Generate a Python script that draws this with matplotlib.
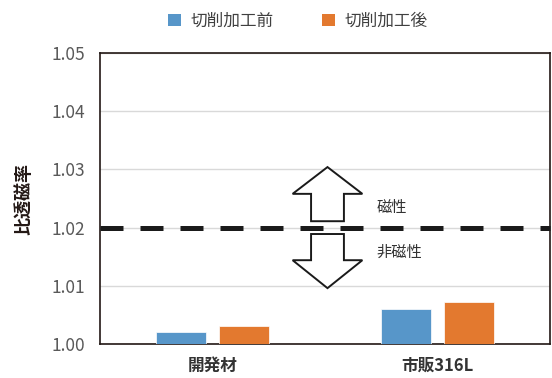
import numpy as np
import matplotlib.pyplot as plt
from matplotlib.patches import Polygon, Patch

plt.rcParams['font.family'] = ['Noto Sans CJK JP', 'DejaVu Sans']

categories = ['開発材', '市販316L']
series_names = ['切削加工前', '切削加工後']
before = [1.0020, 1.0060]
after = [1.0031, 1.0072]
threshold = 1.02
yticks = [1.00, 1.01, 1.02, 1.03, 1.04, 1.05]

blue = '#5796C9'
orange = '#E3792F'
frame = '#231815'

fig = plt.figure(figsize=(5.52, 3.78), dpi=100)
ax = fig.add_axes([0.1812, 0.0899, 0.8152, 0.7699])

x = np.arange(len(categories))
w = 0.222
ax.bar(x - 0.142, before, w, bottom=0, color=blue, edgecolor='white', linewidth=0.5, zorder=3)
ax.bar(x + 0.142, after, w, bottom=0, color=orange, edgecolor='white', linewidth=0.5, zorder=3)

ax.set_xlim(-0.5, 1.5)
ax.set_ylim(1.00, 1.05)
ax.set_yticks(yticks)
ax.set_yticklabels(['%.2f' % v for v in yticks], color='#595959', fontsize=12.5)
ax.set_xticks(x)
ax.set_xticklabels(categories, fontsize=12, fontweight='bold', color='#333333')
ax.tick_params(length=0)
ax.tick_params(axis='x', pad=9)
ax.tick_params(axis='y', pad=11)
ax.grid(axis='y', color='#D9D9D9', linewidth=1, zorder=0)
for s in ax.spines.values():
    s.set_color(frame)
    s.set_linewidth(1.2)

ax.set_ylabel('比透磁率', fontsize=13, fontweight='bold', color='#231815', labelpad=13)

# threshold line
ax.axhline(threshold, color='#1a1a1a', linewidth=3.6, dashes=(4.6, 3.4), zorder=4, clip_on=False)

# arrows
cx = 0.511
sw = 0.073
hw = 0.155
up = [(cx - sw, 1.0211), (cx - sw, 1.0258), (cx - hw, 1.0258), (cx, 1.0304),
      (cx + hw, 1.0258), (cx + sw, 1.0258), (cx + sw, 1.0211)]
down = [(cx - sw, 1.0189), (cx - sw, 1.0144), (cx - hw, 1.0144), (cx, 1.0096),
        (cx + hw, 1.0144), (cx + sw, 1.0144), (cx + sw, 1.0189)]
for pts in (up, down):
    ax.add_patch(Polygon(pts, closed=True, facecolor='white', edgecolor='#1a1a1a',
                         linewidth=1.4, zorder=5))

ax.text(0.727, 1.0234, '磁性', fontsize=11, color='#333333', va='center', ha='left')
ax.text(0.727, 1.0158, '非磁性', fontsize=11, color='#333333', va='center', ha='left')

handles = [Patch(facecolor=blue), Patch(facecolor=orange)]
fig.legend(handles, series_names, loc='center', bbox_to_anchor=(0.54, 0.944), ncol=2,
           frameon=False, fontsize=12, handlelength=0.75, handleheight=0.75,
           handletextpad=0.6, columnspacing=2.9, labelcolor='#404040')

fig.savefig('out.png', dpi=100)
